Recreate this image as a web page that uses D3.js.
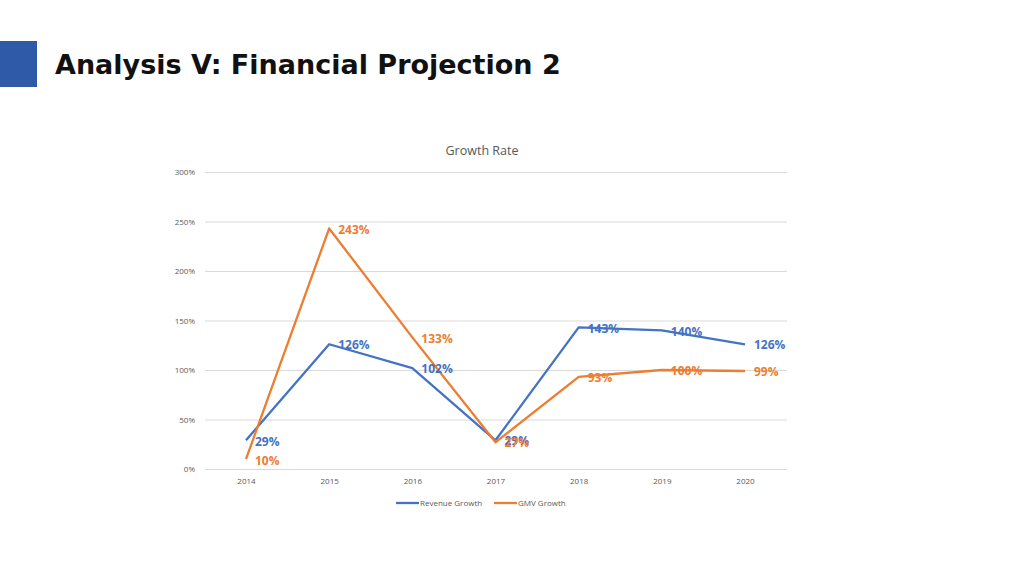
<!DOCTYPE html>
<html><head><meta charset="utf-8">
<script src="https://cdn.jsdelivr.net/npm/d3@7"></script>
<style>body{margin:0;background:#fff;}svg{display:block;}</style>
</head><body>
<svg id="c" width="1024" height="576"></svg>
<script>
const years = ["2014","2015","2016","2017","2018","2019","2020"];
const revenueGrowth = [29,126,102,29,143,140,126];
const gmvGrowth = [10,243,133,27,93,100,99];
const yTicks = [0,50,100,150,200,250,300];
const seriesNames = ["Revenue Growth","GMV Growth"];
const colors = ["#4472C4","#ED7D31"];

const svg = d3.select("#c");
svg.append("rect").attr("x",0).attr("y",41).attr("width",37).attr("height",46).attr("fill","#2F5AA8");
svg.append("text").attr("x",55).attr("y",74).attr("font-family","'DejaVu Sans', sans-serif").attr("font-weight","bold")
  .attr("font-size",27).attr("fill","#111").attr("letter-spacing","0").text("Analysis V: Financial Projection 2");

const x = d3.scalePoint().domain(years).range([246,745]);
const y = d3.scaleLinear().domain([0,300]).range([469,172]);
const gL = 205, gR = 787;

svg.append("text").attr("x",482).attr("y",155).attr("text-anchor","middle").attr("font-family","'Open Sans', sans-serif")
  .attr("font-size",12.5).attr("fill","#595959").text("Growth Rate");

const ya = svg.append("g").attr("transform",`translate(${gL},0)`)
  .call(d3.axisLeft(y).tickValues(yTicks).tickFormat(d=>d+"%").tickSize(-(gR-gL)).tickPadding(10));
ya.select(".domain").remove();
ya.selectAll("line").attr("stroke","#D9D9D9");
ya.selectAll("text").attr("font-family","'Open Sans', sans-serif").attr("font-size",8).attr("fill","#595959");

const xa = svg.append("g").attr("transform",`translate(0,${y(0)})`).call(d3.axisBottom(x).tickSize(0).tickPadding(9));
xa.select(".domain").remove();
xa.selectAll("text").attr("font-family","'Open Sans', sans-serif").attr("font-size",8).attr("fill","#595959");

const data = [revenueGrowth, gmvGrowth];
const line = d3.line().x((d,i)=>x(years[i])).y(d=>y(d));
data.forEach((s,k)=>{
  svg.append("path").datum(s).attr("d",line).attr("fill","none").attr("stroke",colors[k]).attr("stroke-width",2.3).attr("stroke-linejoin","round");
});
data.forEach((s,k)=>{
  svg.selectAll(null).data(s).enter().append("text")
    .attr("x",(d,i)=>x(years[i])+9).attr("y",(d,i)=>y(d)+ (k===0 && i===0 ? 2 : 1) + (k===1 && i===0 ? 1 : 0))
    .attr("dy","0.35em").attr("font-family","'Open Sans', sans-serif").attr("font-weight","bold").attr("font-size",12)
    .attr("fill",colors[k]).text(d=>d+"%");
});

const legX = [396,494];
seriesNames.forEach((n,k)=>{
  svg.append("line").attr("x1",legX[k]).attr("x2",legX[k]+23).attr("y1",503).attr("y2",503).attr("stroke",colors[k]).attr("stroke-width",2.3);
  svg.append("text").attr("x",legX[k]+24).attr("y",503).attr("dy","0.35em").attr("font-family","'Open Sans', sans-serif")
    .attr("font-size",8).attr("fill","#595959").text(n);
});
</script>
</body></html>
